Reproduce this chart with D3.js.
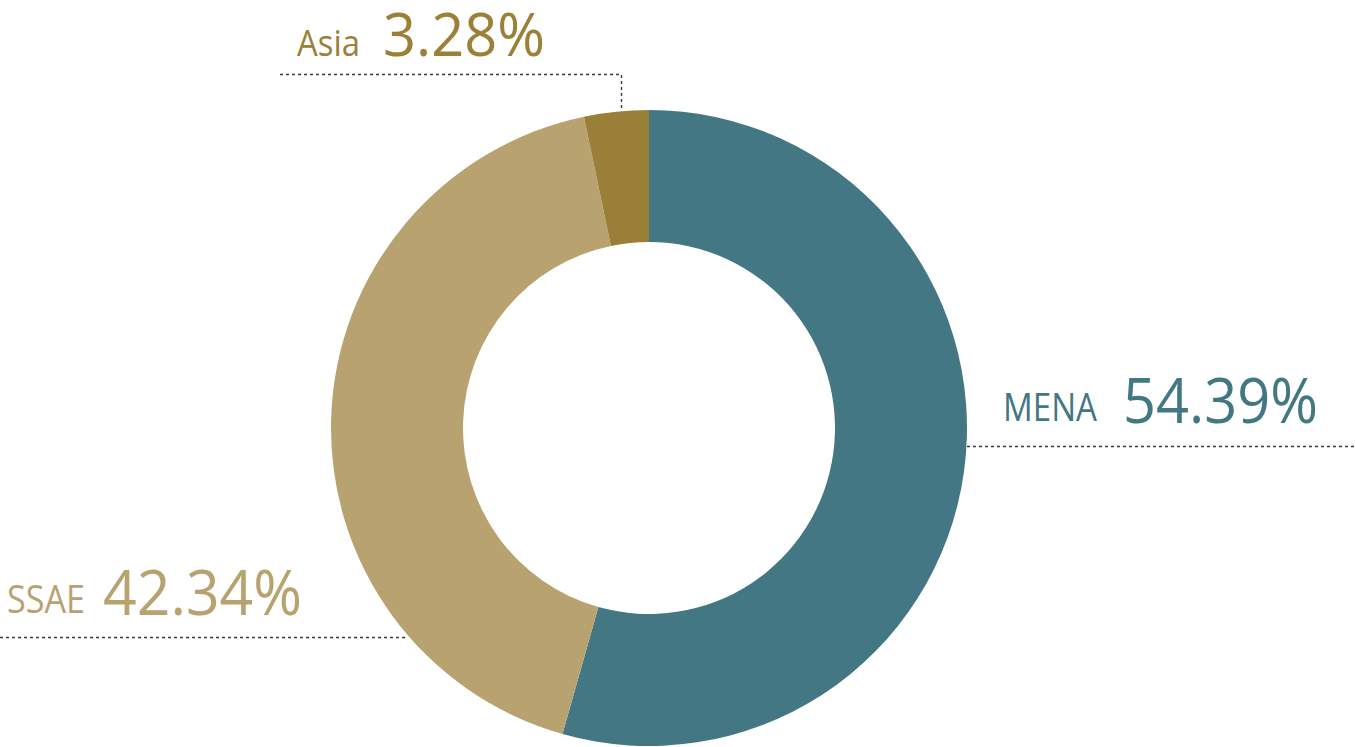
<!DOCTYPE html>
<html><head><meta charset="utf-8">
<script src="https://cdn.jsdelivr.net/npm/d3@7"></script>
<style>html,body{margin:0;padding:0;background:#fff;overflow:hidden}</style>
</head><body>
<svg id="c" width="1355" height="747"></svg>
<script>
const categories = ["MENA", "SSAE", "Asia"];
const values = [54.39, 42.34, 3.28];
const valueLabels = ["54.39%", "42.34%", "3.28%"];
const colors = ["#437783", "#B8A270", "#9A7F38"];
const textColors = ["#437783", "#B8A270", "#9C8038"];

const svg = d3.select("#c");
const cx = 649, cy = 428, rOuter = 318, rInner = 186;
const g = svg.append("g").attr("transform", `translate(${cx},${cy})`);

const pie = d3.pie().sort(null).value(d => d)(values);
const arc = d3.arc().innerRadius(rInner).outerRadius(rOuter);
g.selectAll("path").data(pie).enter().append("path")
  .attr("d", arc).attr("fill", (d, i) => colors[i]);

// label layout (annotation placement)
const labelLayout = [
  { name: [1003, 421, 94, 38], val: [1123, 423, 195, 63], line: [[967, 446.5], [1355, 446.5]] },
  { name: [7, 613, 78, 38], val: [103, 615, 199, 63], line: [[0, 637.5], [406, 637.5]] },
  { name: [297, 56, 63, 36], val: [383, 56, 162, 61], line: [[280, 74.5], [621.5, 74.5], [621.5, 110]] }
];

const font = "'Open Sans', 'Noto Sans', sans-serif";
labelLayout.forEach((L, i) => {
  svg.append("path")
    .attr("d", d3.line()(L.line))
    .attr("fill", "none").attr("stroke", "#3a3a3a")
    .attr("stroke-width", 1.4).attr("stroke-dasharray", "3,3");
  svg.append("text").text(categories[i])
    .attr("x", L.name[0]).attr("y", L.name[1])
    .attr("font-family", font).attr("font-size", L.name[3])
    .attr("textLength", L.name[2]).attr("lengthAdjust", "spacingAndGlyphs")
    .attr("fill", textColors[i]);
  svg.append("text").text(valueLabels[i])
    .attr("x", L.val[0]).attr("y", L.val[1])
    .attr("font-family", font).attr("font-size", L.val[3])
    .attr("textLength", L.val[2]).attr("lengthAdjust", "spacingAndGlyphs")
    .attr("fill", textColors[i]);
});
</script>
</body></html>
